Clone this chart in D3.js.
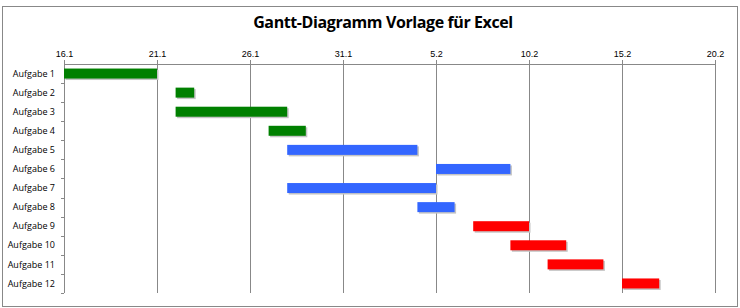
<!DOCTYPE html>
<html lang="de">
<head>
<meta charset="utf-8">
<style>
    body { margin: 0; background: #fff; }
    svg { display: block; font-family: "Open Sans", "Liberation Sans", sans-serif; }
    .axis path, .axis line { stroke: #888; }
    .axis text { fill: #000; font-size: 9px; }
</style>
</head>
<body>
<svg width="740" height="308"></svg>
<script src="https://cdnjs.cloudflare.com/ajax/libs/d3/7.8.5/d3.min.js"></script>
<script>
// chart data
var tasks = ["Aufgabe 1", "Aufgabe 2", "Aufgabe 3", "Aufgabe 4", "Aufgabe 5", "Aufgabe 6",
             "Aufgabe 7", "Aufgabe 8", "Aufgabe 9", "Aufgabe 10", "Aufgabe 11", "Aufgabe 12"];
var starts = ["2013-01-16", "2013-01-22", "2013-01-22", "2013-01-27", "2013-01-28", "2013-02-05",
              "2013-01-28", "2013-02-04", "2013-02-07", "2013-02-09", "2013-02-11", "2013-02-15"];
var ends = ["2013-01-21", "2013-01-23", "2013-01-28", "2013-01-29", "2013-02-04", "2013-02-09",
            "2013-02-05", "2013-02-06", "2013-02-10", "2013-02-12", "2013-02-14", "2013-02-17"];
var groups = ["A", "A", "A", "A", "B", "B", "B", "B", "C", "C", "C", "C"];
var tickDates = ["2013-01-16", "2013-01-21", "2013-01-26", "2013-01-31",
                 "2013-02-05", "2013-02-10", "2013-02-15", "2013-02-20"];

var parse = d3.utcParse("%Y-%m-%d");
var rows = tasks.map(function(t, i) {
    return { task: t, start: parse(starts[i]), end: parse(ends[i]), group: groups[i] };
});

var svg = d3.select("svg"),
    margin = { top: 64, right: 25, bottom: 15, left: 64 },
    width = +svg.attr("width") - margin.left - margin.right,
    height = +svg.attr("height") - margin.top - margin.bottom;

// outer frame
svg.append("rect")
    .attr("x", 2.5).attr("y", 6.5)
    .attr("width", 735).attr("height", 300)
    .attr("fill", "#fff").attr("stroke", "#888");

svg.append("text")
    .attr("x", 383).attr("y", 28)
    .attr("text-anchor", "middle")
    .attr("font-size", "16px")
    .attr("letter-spacing", "-0.4px")
    .attr("font-weight", "bold")
    .text("Gantt-Diagramm Vorlage für Excel");

var x = d3.scaleUtc()
    .domain([parse(tickDates[0]), parse(tickDates[tickDates.length - 1])])
    .range([0, width]);
var y = d3.scaleBand().domain(tasks).range([0, height]);
var color = d3.scaleOrdinal().domain(["A", "B", "C"]).range(["#008000", "#3366ff", "#ff0000"]);

var g = svg.append("g")
    .attr("transform", "translate(" + margin.left + "," + margin.top + ")");

// vertical gridlines
g.append("g")
    .attr("class", "axis grid")
    .call(d3.axisTop(x).tickValues(tickDates.map(parse)).tickSize(-height).tickFormat(""))
    .call(function(s) { s.select(".domain").remove(); });

g.append("g")
    .attr("class", "axis axis--x")
    .call(d3.axisTop(x).tickValues(tickDates.map(parse)).tickSize(4).tickPadding(3)
        .tickFormat(d3.utcFormat("%-d.%-m")));

// y axis with ticks at category boundaries
var yAxis = g.append("g").attr("class", "axis axis--y");
yAxis.append("line")
    .attr("x1", 0.5).attr("x2", 0.5).attr("y1", 0).attr("y2", height)
    .attr("stroke", "#888");
yAxis.selectAll(".cat-tick")
    .data(tasks)
    .enter().append("line")
    .attr("class", "cat-tick")
    .attr("x1", -3).attr("x2", 0)
    .attr("y1", function(d) { return Math.round(y(d) + y.step()) + 0.5; })
    .attr("y2", function(d) { return Math.round(y(d) + y.step()) + 0.5; })
    .attr("stroke", "#888");
yAxis.selectAll("text")
    .data(tasks)
    .enter().append("text")
    .attr("x", -9)
    .attr("y", function(d) { return y(d) + y.bandwidth() / 2; })
    .attr("dy", "0.35em")
    .attr("text-anchor", "end")
    .text(function(d) { return d; });

var barH = 10;

// bar shadows
g.selectAll(".shadow")
    .data(rows)
    .enter().append("rect")
    .attr("class", "shadow")
    .attr("x", function(d) { return x(d.start) + 1.5; })
    .attr("y", function(d) { return y(d.task) + y.bandwidth() / 2 - barH / 2 + 1.5; })
    .attr("width", function(d) { return x(d.end) - x(d.start); })
    .attr("height", barH)
    .attr("fill", "#c4c4c4");

g.selectAll(".bar")
    .data(rows)
    .enter().append("rect")
    .attr("class", "bar")
    .attr("x", function(d) { return x(d.start); })
    .attr("y", function(d) { return y(d.task) + y.bandwidth() / 2 - barH / 2; })
    .attr("width", function(d) { return x(d.end) - x(d.start); })
    .attr("height", barH)
    .attr("fill", function(d) { return color(d.group); });
</script>
</body>
</html>
